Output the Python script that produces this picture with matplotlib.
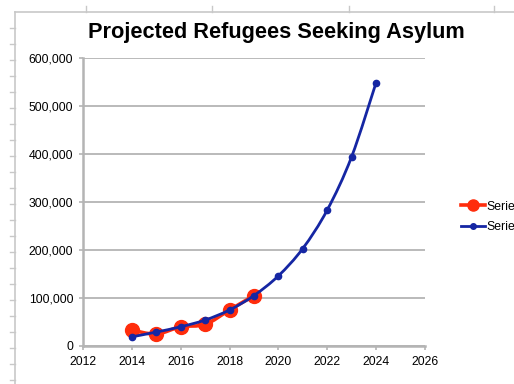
import matplotlib
matplotlib.use("Agg")
import matplotlib.pyplot as plt
from matplotlib.path import Path
from matplotlib.patches import PathPatch
from matplotlib.lines import Line2D

plt.rcParams['font.family'] = ['Liberation Sans', 'DejaVu Sans']

# yearly figures
years_1 = [2014, 2015, 2016, 2017, 2018, 2019]
series_1 = [33000, 25000, 40000, 45000, 75000, 105000]
years_2 = [2014, 2015, 2016, 2017, 2018, 2019, 2020, 2021, 2022, 2023, 2024]
series_2 = [19000, 29000, 40000, 54000, 75000, 105000, 146000, 203000, 283000, 394000, 548000]

x_ticks = [2012, 2014, 2016, 2018, 2020, 2022, 2024, 2026]
y_ticks = [0, 100000, 200000, 300000, 400000, 500000, 600000]

red = '#ff2d0c'
blue = '#1526a3'
grid_grey = '#b4b4b4'


# smooth curve through the points (catmull-rom -> cubic bezier)
def smooth_path(xs, ys):
    pts = list(zip(xs, ys))
    verts = [pts[0]]
    codes = [Path.MOVETO]
    for i in range(len(pts) - 1):
        p0 = pts[i - 1] if i > 0 else pts[i]
        p1 = pts[i]
        p2 = pts[i + 1]
        p3 = pts[i + 2] if i + 2 < len(pts) else pts[i + 1]
        c1 = (p1[0] + (p2[0] - p0[0]) / 6, p1[1] + (p2[1] - p0[1]) / 6)
        c2 = (p2[0] - (p3[0] - p1[0]) / 6, p2[1] - (p3[1] - p1[1]) / 6)
        verts += [c1, c2, p2]
        codes += [Path.CURVE4] * 3
    return Path(verts, codes)


fig = plt.figure(figsize=(5.14, 3.84), dpi=100)
ax = fig.add_axes([0.1615, 0.099, 0.665, 0.750])

ax.add_patch(PathPatch(smooth_path(years_1, series_1), fill=False,
                       edgecolor=red, lw=2.6, zorder=3))
ax.plot(years_1, series_1, 'o', color=red, ms=10, zorder=3)
ax.add_patch(PathPatch(smooth_path(years_2, series_2), fill=False,
                       edgecolor=blue, lw=2.0, zorder=4))
ax.plot(years_2, series_2, 'o', color=blue, ms=4.5, zorder=4)

ax.set_xlim(2012, 2026)
ax.set_ylim(0, 600000)
ax.set_xticks(x_ticks)
ax.set_yticks(y_ticks)
ax.set_yticklabels(['{:,}'.format(v) for v in y_ticks])
ax.tick_params(labelsize=8.8, length=3, color=grid_grey, width=1.2, pad=4)
ax.yaxis.grid(True, color=grid_grey, lw=1.3)
ax.set_axisbelow(True)
for side in ['top', 'right']:
    ax.spines[side].set_visible(False)
for side in ['left', 'bottom']:
    ax.spines[side].set_color(grid_grey)
    ax.spines[side].set_linewidth(1.8)

fig.text(0.537, 0.915, 'Projected Refugees Seeking Asylum', ha='center',
         va='center', fontsize=15.7, fontweight='bold')

handles = [Line2D([], [], color=red, lw=2.6, marker='o', ms=8),
           Line2D([], [], color=blue, lw=2.0, marker='o', ms=4)]
fig.legend(handles, ['Series1', 'Series2'], loc='center left',
           bbox_to_anchor=(0.875, 0.435), frameon=False, fontsize=8.8,
           handlelength=2.0, handletextpad=0.1, labelspacing=0.7)

# spreadsheet edges around the chart
fig.add_artist(Line2D([0.03, 0.03], [0, 0.97], color='#c8c8c8', lw=1.2,
                      transform=fig.transFigure))
fig.add_artist(Line2D([0.03, 1], [0.97, 0.97], color='#c8c8c8', lw=1.2,
                      transform=fig.transFigure))
for k in range(24):
    y = 0.97 - 0.0417 * (k + 1)
    fig.add_artist(Line2D([0.02, 0.03], [y, y], color='#c8c8c8', lw=1,
                          transform=fig.transFigure))
for xp in [0.167, 0.412, 0.679, 0.961]:
    fig.add_artist(Line2D([xp, xp], [0.97, 0.985], color='#c8c8c8', lw=1,
                          transform=fig.transFigure))

fig.savefig('out.png', dpi=100)
